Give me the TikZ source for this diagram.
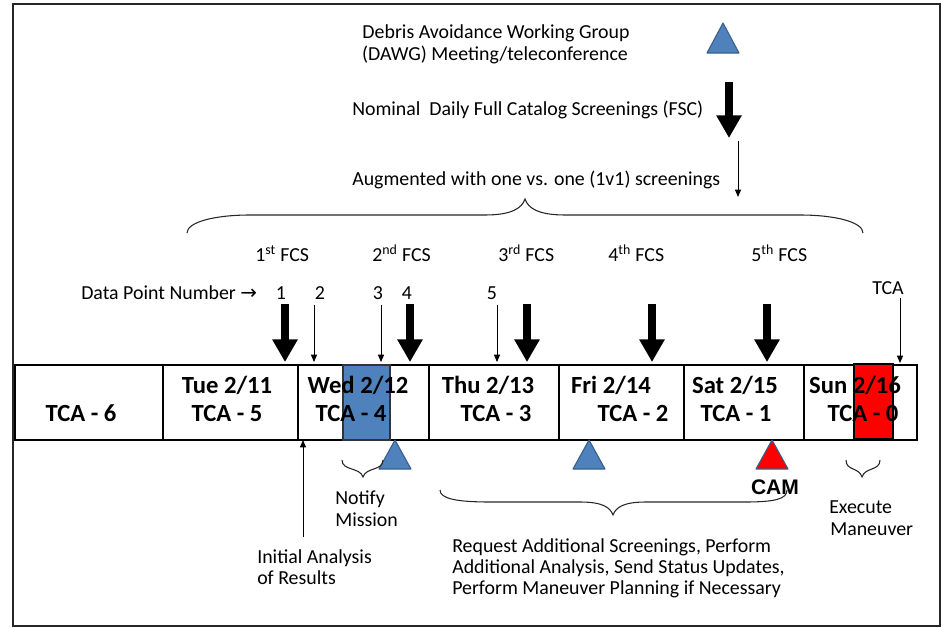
\documentclass[tikz,border=0pt]{standalone}
\usepackage{fontspec}
\setmainfont{Carlito}
\newfontfamily\camfont{Liberation Sans}
\newfontfamily\symfont{DejaVu Sans}
\usetikzlibrary{arrows.meta}
\definecolor{obl}{HTML}{4F81BD}
\definecolor{obd}{HTML}{385D8A}
\begin{document}
\begin{tikzpicture}[x=0.75pt,y=-0.75pt,
  txt/.style={font=\fontsize{14.9}{16.5}\selectfont, inner sep=0pt},
  lbl/.style={font=\bfseries\fontsize{18.5}{21}\selectfont, inner sep=0pt, anchor=base},
  cell/.style={draw, line width=0.8pt, minimum height=56.25pt, inner sep=0pt, outer sep=0pt},
  bigarrow/.style={line width=6pt, -{Triangle[width=18pt,length=17pt]}},
  thinarrow/.style={line width=0.75pt, -{Triangle[width=4.5pt,length=5.5pt]}},
  tri/.style={fill=obl, draw=obd, line width=0.8pt, line join=round},
  bracestyle/.style={line width=0.8pt, draw=black!85}
]
\useasboundingbox (0,0) rectangle (942,628);
\draw[line width=0.9pt, draw=black!85] (13,4) rectangle (940,626);

% timeline cells
\node[cell, minimum width=111pt]   (c0) at (89,402.5) {};
\node[cell, minimum width=101.25pt](c1) at (230.5,402.5) {};
\node[cell, minimum width=98.25pt] (c2) at (363.5,402.5) {};
\node[cell, minimum width=97.5pt]  (c3) at (494,402.5) {};
\node[cell, minimum width=93.75pt] (c4) at (621.5,402.5) {};
\node[cell, minimum width=90pt]    (c5) at (744,402.5) {};
\node[cell, minimum width=84.75pt] (c6) at (860.5,402.5) {};
\node[draw=black!80, fill=obl, line width=0.8pt, minimum width=35.25pt, minimum height=56.25pt, inner sep=0pt] (bluebox) at (366.5,402.5) {};
\node[draw=black, fill=red, line width=1pt, minimum width=29.25pt, minimum height=56.25pt, inner sep=0pt] (redbox) at (873.5,401.5) {};

% cell labels
\node[lbl] (l0)  at (81,421)  {TCA - 6};
\node[lbl] (l1a) at (227,393) {Tue 2/11};
\node[lbl] (l1b) at (227,421) {TCA - 5};
\node[lbl] (l2a) at (358,393) {Wed 2/12};
\node[lbl] (l2b) at (351,421) {TCA - 4};
\node[lbl] (l3a) at (488,393) {Thu 2/13};
\node[lbl] (l3b) at (496,421) {TCA - 3};
\node[lbl] (l4a) at (611,393) {Fri 2/14};
\node[lbl] (l4b) at (633,421) {TCA - 2};
\node[lbl] (l5a) at (735,393) {Sat 2/15};
\node[lbl] (l5b) at (736,421) {TCA - 1};
\node[lbl] (l6a) at (855,393) {Sun 2/16};
\node[lbl] (l6b) at (863,421) {TCA - 0};

% top texts
\node[txt, anchor=base] (dawg1) at (496,38) {Debris Avoidance Working Group};
\node[txt, anchor=base] (dawg2) at (495,60) {(DAWG) Meeting/teleconference};
\node[txt, anchor=base west] (fsc) at (352,115) {Nominal\ \ Daily Full Catalog Screenings (FSC)};
\node[txt, anchor=base west] (aug) at (352,185) {Augmented with one vs. one (1v1) screenings};
\draw[tri] (723,23) -- (739,53) -- (707,53) -- cycle;
\coordinate (ba0s) at (729,82);
\coordinate (ba0e) at (729,138);
\draw[bigarrow] (ba0s) -- (ba0e);
\coordinate (ta0s) at (738,141);
\coordinate (ta0e) at (738,197);
\draw[thinarrow] (ta0s) -- (ta0e);

% top brace
\draw[bracestyle] (187,233) .. controls (187,222) and (215,215) .. (250,215) -- (485,215)
  .. controls (512,215) and (522,208) .. (525,199)
  .. controls (528,208) and (538,215) .. (565,215) -- (800,215)
  .. controls (835,215) and (863,222) .. (863,233);

% FCS labels
\node[txt, anchor=base west] (f1) at (255,261) {1\textsuperscript{st} FCS};
\node[txt, anchor=base west] (f2) at (372,261) {2\textsuperscript{nd} FCS};
\node[txt, anchor=base west] (f3) at (498,261) {3\textsuperscript{rd} FCS};
\node[txt, anchor=base west] (f4) at (608,261) {4\textsuperscript{th} FCS};
\node[txt, anchor=base west] (f5) at (751,261) {5\textsuperscript{th} FCS};

\node[txt, anchor=base west] (dpn) at (81,299) {Data Point Number {\symfont →}};
\node[txt, anchor=base] (n1) at (281,299) {1};
\node[txt, anchor=base] (n2) at (320,299) {2};
\node[txt, anchor=base] (n3) at (378,299) {3};
\node[txt, anchor=base] (n4) at (407,299) {4};
\node[txt, anchor=base] (n5) at (492,299) {5};
\node[txt, anchor=base] (tca) at (888,294) {TCA};

% screening arrows
\foreach \x/\c in {285/c1, 410/c2, 527/c3, 652/c4, 767/c5} {
  \coordinate (bs\x) at (\x,304);
  \draw[bigarrow, shorten >=2.2pt] (bs\x) -- (bs\x |- \c.north);
}
\foreach \x/\c in {314/c2, 381/c2, 497/c3} {
  \coordinate (ts\x) at (\x,305);
  \draw[thinarrow, shorten >=2.2pt] (ts\x) -- (ts\x |- \c.north);
}
\coordinate (tcas) at (900,298);
\draw[thinarrow, shorten >=1.5pt] (tcas) -- (tcas |- c6.north);

% below timeline
\draw[tri] (395,440) -- (411,469) -- (379,469) -- cycle;
\draw[tri] (589,440) -- (605,469) -- (573,469) -- cycle;
\draw[tri, fill=red] (772,440) -- (788,469) -- (756,469) -- cycle;

\coordinate (ias) at (303,537);
\draw[thinarrow] (ias) -- (ias |- c2.south);
\node[txt, anchor=base west] (ia1) at (257,563) {Initial Analysis};
\node[txt, anchor=base west] (ia2) at (257,584) {of Results};

\draw[bracestyle] (342,460) .. controls (342,471) and (360,467) .. (363,477)
  .. controls (366,467) and (383,471) .. (383,460);
\node[txt, anchor=base west] (nm1) at (335,504) {Notify};
\node[txt, anchor=base west] (nm2) at (335,526) {Mission};

\node[font=\camfont\bfseries\fontsize{15.8}{18}\selectfont, inner sep=0pt, anchor=base] (cam) at (775,494) {CAM};

\draw[bracestyle] (440,490) .. controls (440,499) and (458,502) .. (490,502) -- (580,502)
  .. controls (602,502) and (610,507) .. (613,515)
  .. controls (616,507) and (624,502) .. (646,502) -- (745,502)
  .. controls (775,502) and (787,499) .. (787,490);
\node[txt, anchor=base west] (rq1) at (452,552) {Request Additional Screenings, Perform};
\node[txt, anchor=base west] (rq2) at (452,573) {Additional Analysis, Send Status Updates,};
\node[txt, anchor=base west] (rq3) at (452,594) {Perform Maneuver Planning if Necessary};

\draw[bracestyle] (846,460) .. controls (846,471) and (859,467) .. (862,477)
  .. controls (865,467) and (880,471) .. (880,460);
\node[txt, anchor=base west] (em1) at (829,513) {Execute};
\node[txt, anchor=base west] (em2) at (830,535) {Maneuver};
\end{tikzpicture}
\end{document}
